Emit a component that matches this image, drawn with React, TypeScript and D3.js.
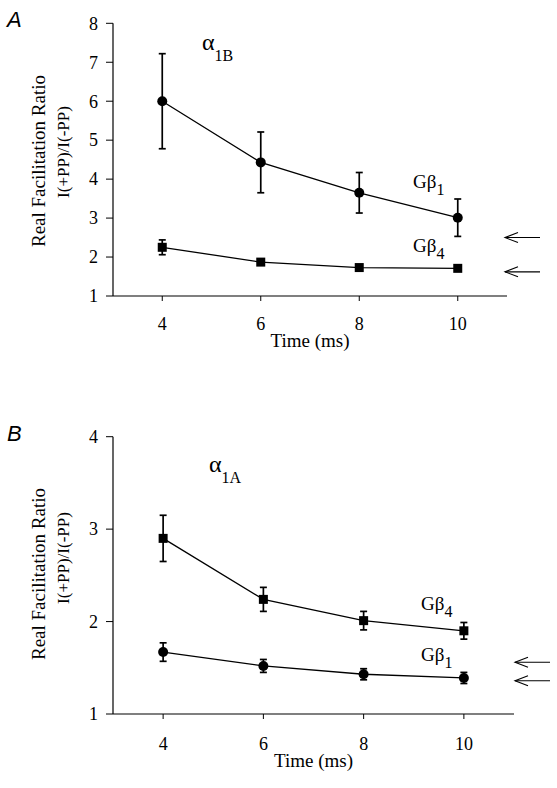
import React from "react";
import * as d3 from "d3";

const times = [4, 6, 8, 10];
const xTicks = [4, 6, 8, 10];

// Panel A (alpha 1B)
const aYTicks = [1, 2, 3, 4, 5, 6, 7, 8];
const aGb1Mean = [6.0, 4.43, 3.65, 3.01];
const aGb1Err = [1.22, 0.78, 0.52, 0.48];
const aGb4Mean = [2.25, 1.87, 1.73, 1.71];
const aGb4Err = [0.19, 0.07, 0.05, 0.03];
const aArrows = [2.5, 1.62];

// Panel B (alpha 1A)
const bYTicks = [1, 2, 3, 4];
const bGb4Mean = [2.9, 2.24, 2.01, 1.9];
const bGb4Err = [0.25, 0.13, 0.1, 0.09];
const bGb1Mean = [1.67, 1.52, 1.43, 1.39];
const bGb1Err = [0.1, 0.07, 0.06, 0.06];
const bArrows = [1.56, 1.36];

const SERIF = "'Liberation Serif', 'Times New Roman', serif";
const SANS = "'Liberation Sans', Arial, sans-serif";

type Series = { mean: number[]; err: number[]; shape: "circle" | "square" };

function SeriesMarks({ s, x, y }: { s: Series; x: any; y: any }) {
  const line = d3
    .line<number>()
    .x((_, i) => x(times[i]))
    .y((d) => y(d));
  return (
    <g>
      <path d={line(s.mean) || ""} fill="none" stroke="#000" strokeWidth={1.3} />
      {s.mean.map((m, i) => {
        const cx = x(times[i]);
        const top = y(m + s.err[i]);
        const bot = y(m - s.err[i]);
        const cy = y(m);
        return (
          <g key={i}>
            {s.err[i] > 0.04 && (
              <g stroke="#000" strokeWidth={1.7}>
                <line x1={cx} x2={cx} y1={top} y2={bot} />
                <line x1={cx - 3.5} x2={cx + 3.5} y1={top} y2={top} />
                <line x1={cx - 3.5} x2={cx + 3.5} y1={bot} y2={bot} />
              </g>
            )}
            {s.shape === "circle" ? (
              <circle cx={cx} cy={cy} r={5} fill="#000" />
            ) : (
              <rect x={cx - 4.5} y={cy - 4.5} width={9} height={9} fill="#000" />
            )}
          </g>
        );
      })}
    </g>
  );
}

function Arrow({ tipX, y, len }: { tipX: number; y: number; len: number }) {
  return (
    <g stroke="#000" strokeWidth={1.1} fill="none">
      <line x1={tipX} x2={tipX + len} y1={y} y2={y} />
      <polyline points={`${tipX + 13},${y - 5} ${tipX},${y} ${tipX + 13},${y + 5}`} />
    </g>
  );
}

function Panel(props: {
  letter: string;
  letterY: number;
  x: any;
  y: any;
  yTicks: number[];
  series: Series[];
  alphaSub: string;
  alphaX: number;
  alphaY: number;
  labels: { text: string; sub: string; x: number; y: number }[];
  arrows: number[];
  arrowTip: number;
  tickLabelY: number;
  titleY: number;
  ylab1: number;
  ylab2: number;
}) {
  const { x, y } = props;
  const [x0, x1] = x.range();
  const [yb, yt] = y.range();
  return (
    <g>
      <text x={7} y={props.letterY} fontFamily={SANS} fontStyle="italic" fontSize={22}>
        {props.letter}
      </text>
      {/* axes */}
      <line x1={x0} x2={x0} y1={yb} y2={yt} stroke="#000" strokeWidth={1.2} />
      <line x1={x0} x2={x1} y1={yb} y2={yb} stroke="#000" strokeWidth={1.2} />
      {props.yTicks.map((t) => (
        <g key={t}>
          <line x1={x0 - 7} x2={x0} y1={y(t)} y2={y(t)} stroke="#000" strokeWidth={1} />
          <text x={98} y={y(t)} dy="0.35em" textAnchor="end" fontFamily={SERIF} fontSize={18}>
            {t}
          </text>
        </g>
      ))}
      {xTicks.map((t) => (
        <g key={t}>
          <line x1={x(t)} x2={x(t)} y1={yb} y2={yb + 5} stroke="#000" strokeWidth={1} />
          <text x={x(t)} y={props.tickLabelY} textAnchor="middle" fontFamily={SERIF} fontSize={18}>
            {t}
          </text>
        </g>
      ))}
      <text x={(x(4) + x(10)) / 2} y={props.titleY} textAnchor="middle" fontFamily={SERIF} fontSize={19}>
        Time (ms)
      </text>
      <text
        transform={`translate(45,${props.ylab1}) rotate(-90)`}
        textAnchor="middle"
        fontFamily={SERIF}
        fontSize={19}
      >
        Real Facilitation Ratio
      </text>
      <text
        transform={`translate(69,${props.ylab2}) rotate(-90)`}
        textAnchor="middle"
        fontFamily={SERIF}
        fontSize={17}
      >
        I(+PP)/I(-PP)
      </text>
      {/* alpha label */}
      <text x={props.alphaX} y={props.alphaY} fontFamily={SERIF} fontSize={24}>
        α
        <tspan dy={11} fontSize={16}>
          {props.alphaSub}
        </tspan>
      </text>
      {props.series.map((s, i) => (
        <SeriesMarks key={i} s={s} x={x} y={y} />
      ))}
      {props.labels.map((l, i) => (
        <text key={i} x={l.x} y={l.y} fontFamily={SERIF} fontSize={19}>
          {l.text}
          <tspan dy={7} fontSize={16}>
            {l.sub}
          </tspan>
        </text>
      ))}
      {props.arrows.map((v, i) => (
        <Arrow key={i} tipX={props.arrowTip} y={y(v)} len={35} />
      ))}
    </g>
  );
}

export default function App() {
  const xA = d3.scaleLinear().domain([3, 11]).range([113, 507]);
  const yA = d3.scaleLinear().domain([1, 8]).range([296, 23.3]);
  const xB = d3.scaleLinear().domain([3, 11]).range([113, 514]);
  const yB = d3.scaleLinear().domain([1, 4]).range([714, 436.7]);

  return (
    <svg
      width={557}
      height={788}
      style={{ position: "absolute", left: 0, top: 0, background: "#fff" }}
    >
      <rect width={557} height={788} fill="#fff" />
      <Panel
        letter="A"
        letterY={27}
        x={xA}
        y={yA}
        yTicks={aYTicks}
        series={[
          { mean: aGb1Mean, err: aGb1Err, shape: "circle" },
          { mean: aGb4Mean, err: aGb4Err, shape: "square" },
        ]}
        alphaSub="1B"
        alphaX={202}
        alphaY={50}
        labels={[
          { text: "Gβ", sub: "1", x: 413, y: 188 },
          { text: "Gβ", sub: "4", x: 413, y: 252 },
        ]}
        arrows={aArrows}
        arrowTip={xA(11) - 2}
        tickLabelY={330}
        titleY={347}
        ylab1={161}
        ylab2={152}
      />
      <Panel
        letter="B"
        letterY={441}
        x={xB}
        y={yB}
        yTicks={bYTicks}
        series={[
          { mean: bGb4Mean, err: bGb4Err, shape: "square" },
          { mean: bGb1Mean, err: bGb1Err, shape: "circle" },
        ]}
        alphaSub="1A"
        alphaX={209}
        alphaY={472}
        labels={[
          { text: "Gβ", sub: "4", x: 421, y: 610 },
          { text: "Gβ", sub: "1", x: 421, y: 661 },
        ]}
        arrows={bArrows}
        arrowTip={xB(11) + 1}
        tickLabelY={750}
        titleY={767}
        ylab1={574}
        ylab2={558}
      />
    </svg>
  );
}
